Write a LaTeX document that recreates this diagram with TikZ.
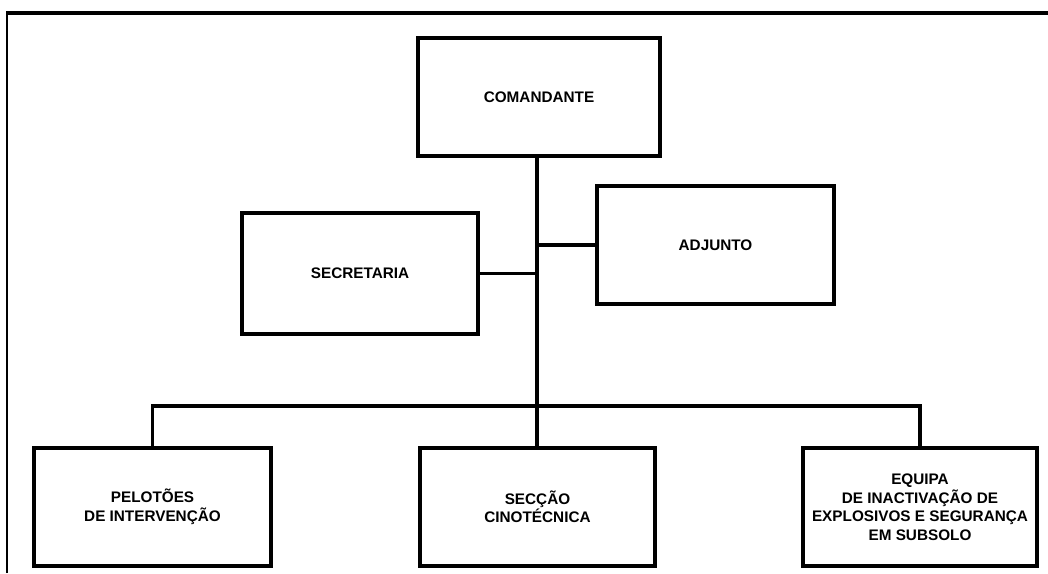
\documentclass[tikz,border=0pt]{standalone}
\usepackage{fontspec}
\setmainfont{Liberation Sans}
\begin{document}
\begin{tikzpicture}[x=1pt,y=-1pt,
  box/.style={draw=black, line width=3.8pt, fill=white, align=center,
    font=\bfseries\fontsize{15.3}{18.5}\selectfont, inner sep=0pt},
  link/.style={draw=black, line width=3.2pt}]
\useasboundingbox (0,0) rectangle (1048,573);
\draw[line width=2.2pt] (7,573) -- (7,12);
\draw[line width=3.6pt] (6,13) -- (1048,13);
\node[box, minimum width=242pt, minimum height=118pt] (com) at (539,97) {COMANDANTE};
\node[box, minimum width=236pt, minimum height=121pt] (sec) at (360,273.5) {SECRETARIA};
\node[box, minimum width=237pt, minimum height=118pt] (adj) at (715.5,245) {ADJUNTO};
\node[box, minimum width=237pt, minimum height=118pt] (pel) at (152.5,507) {PELOTÕES\\DE INTERVENÇÃO};
\node[box, minimum width=235pt, minimum height=118pt] (secc) at (537.5,507) {SECÇÃO\\CINOTÉCNICA};
\node[box, minimum width=234pt, minimum height=118pt] (equ) at (920,507) {EQUIPA\\DE INACTIVAÇÃO DE\\EXPLOSIVOS E SEGURANÇA\\EM SUBSOLO};
\coordinate (t) at (537,0);
\coordinate (bus) at (0,406);
\draw[link] (t |- com.south) -- (t |- secc.north);
\draw[link] (sec.east) -- (sec.east -| t);
\draw[link] (adj.west) -- (adj.west -| t);
\draw[link] (pel.north) -- (pel.north |- bus) -- (equ.north |- bus) -- (equ.north);
\end{tikzpicture}
\end{document}
